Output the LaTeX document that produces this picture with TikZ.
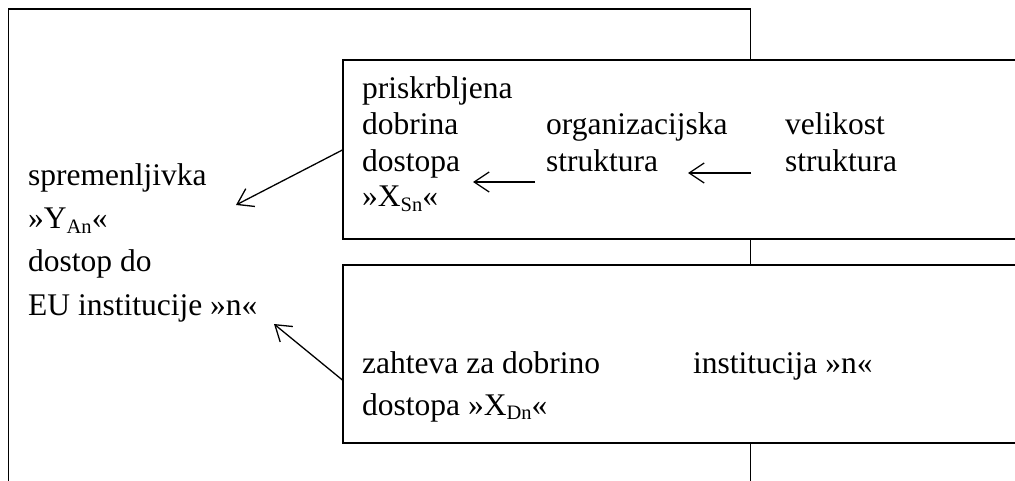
\documentclass[tikz,border=0pt]{standalone}
\usepackage{fontspec}
\setmainfont{Liberation Serif}
\usetikzlibrary{arrows.meta}
\newcommand\mysub[1]{\raisebox{-4.5pt}{\fontsize{20.5}{20.5}\selectfont #1}}
\tikzset{
  txt/.style={anchor=base west, inner sep=0pt, font=\fontsize{31.5}{31.5}\selectfont},
  box/.style={draw=black, fill=white, line width=1.2pt, rectangle, inner sep=0pt},
  frame/.style={draw=black, line width=1.3pt},
  arr/.style={-{Straight Barb[length=15pt,width=20pt]}, line width=1.3pt}
}
\begin{document}
\begin{tikzpicture}[x=1pt,y=-1pt]
\useasboundingbox (0,0) rectangle (1015,481);
\clip (0,0) rectangle (1015,481);
% outer frame (open at the bottom)
\draw[frame] (8.5,490) -- (8.5,9) -- (750.5,9) -- (750.5,490);
% boxes
\node[box, minimum width=690pt, minimum height=179pt] (b1) at (688,149.5) {};
\node[box, minimum width=690pt, minimum height=178pt] (b2) at (688,354) {};
% left text
\node[txt] (l1) at (28,186) {spremenljivka};
\node[txt] (l2) at (28,229) {»Y\mysub{An}«};
\node[txt] (l3) at (28,272) {dostop do};
\node[txt] (l4) at (28,315) {EU institucije »n«};
% box 1 text
\node[txt] (p1) at (362,99) {priskrbljena};
\node[txt] (p2) at (362,135) {dobrina};
\node[txt] (p3) at (362,172) {dostopa};
\node[txt] (p4) at (362,207) {»X\mysub{Sn}«};
\node[txt] (o1) at (546,135) {organizacijska};
\node[txt] (o2) at (546,172) {struktura};
\node[txt] (v1) at (785,135) {velikost};
\node[txt] (v2) at (785,172) {struktura};
% box 2 text
\node[txt] (z1) at (362,373) {zahteva za dobrino};
\node[txt] (z2) at (362,415) {dostopa »X\mysub{Dn}«};
\node[txt] (i1) at (693,373) {institucija »n«};
% arrows
\coordinate (s1) at (b1.west |- 0,150);
\coordinate (e1) at (236,205);
\coordinate (s2) at (b2.west |- 0,380);
\coordinate (e2) at (274,324);
\coordinate (s3) at (535,182);
\coordinate (e3) at (473,182);
\coordinate (s4) at (751,173);
\coordinate (e4) at (688,173);
\draw[arr] (s1) -- (e1);
\draw[arr] (s2) -- (e2);
\draw[arr] (s3) -- (e3);
\draw[arr] (s4) -- (e4);
\end{tikzpicture}
\end{document}
